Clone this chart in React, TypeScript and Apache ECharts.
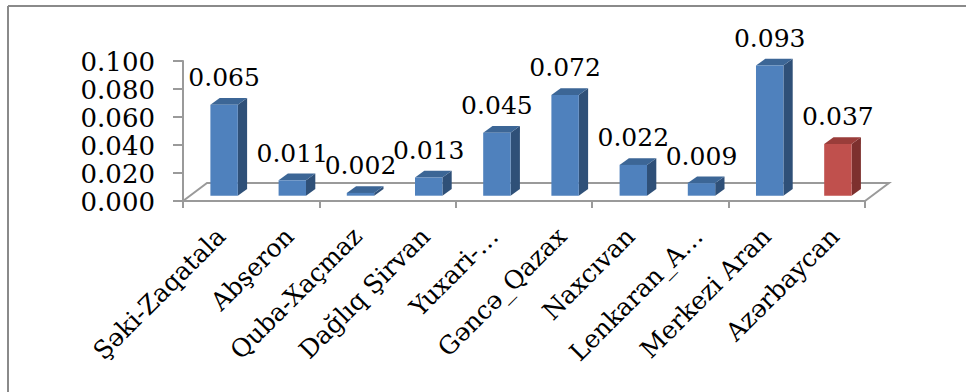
import React, { useEffect, useRef } from "react";
import * as echarts from "echarts";

const categories = [
  "Şəki-Zaqatala",
  "Abşeron",
  "Quba-Xaçmaz",
  "Dağlıq Şirvan",
  "Yuxari-…",
  "Gəncə_Qazax",
  "Naxcıvan",
  "Lenkaran_A…",
  "Merkezi Aran",
  "Azərbaycan",
];
const values = [0.065, 0.011, 0.002, 0.013, 0.045, 0.072, 0.022, 0.009, 0.093, 0.037];
const highlighted = ["Azərbaycan"];
const yTickValues = [0, 0.02, 0.04, 0.06, 0.08, 0.1];

const FONT = "DejaVu Serif";

export default function App() {
  const ref = useRef<HTMLDivElement>(null);
  useEffect(() => {
    if (!ref.current) return;
    const chart = echarts.init(ref.current, null, { renderer: "svg" });
    const gridLeft = 183, gridTop = 61, gridW = 682, gridH = 140;
    const floorDx = 24, floorDy = -18;
    const faceDx = 7, faceDy = -5.3;
    const depthDx = 9.3, depthDy = -6.7;
    const axisColor = "#9a9a9a";

    const option: any = {
      animation: false,
      backgroundColor: "#ffffff",
      textStyle: { fontFamily: FONT },
      grid: [
        { left: gridLeft, top: gridTop, width: gridW, height: gridH },
        { left: gridLeft + 4, top: gridTop, width: gridW, height: gridH },
      ],
      xAxis: [
        {
          type: "category",
          gridIndex: 0,
          data: categories,
          boundaryGap: true,
          axisLine: { show: true, lineStyle: { color: axisColor, width: 2 } },
          axisTick: { show: true, length: 7, lineStyle: { color: axisColor, width: 2 } },
          axisLabel: { show: false },
          splitLine: { show: false },
        },
        {
          type: "category",
          gridIndex: 1,
          data: categories,
          axisLine: { show: false },
          axisTick: { show: false },
          axisLabel: {
            show: true,
            interval: 0,
            rotate: 45,
            margin: 31,
            fontFamily: FONT,
            fontSize: 25,
            color: "#000",
          },
          splitLine: { show: false },
        },
      ],
      yAxis: [
        {
          type: "value",
          gridIndex: 0,
          min: yTickValues[0],
          max: yTickValues[yTickValues.length - 1],
          interval: yTickValues[1] - yTickValues[0],
          axisLine: { show: true, lineStyle: { color: axisColor, width: 2 } },
          axisTick: { show: true, length: 10, lineStyle: { color: axisColor, width: 2 } },
          splitLine: { show: false },
          axisLabel: { show: false },
        },
        {
          type: "value",
          gridIndex: 1,
          min: yTickValues[0],
          max: yTickValues[yTickValues.length - 1],
          show: false,
        },
      ],
      graphic: [
        {
          type: "line",
          shape: { x1: 8, y1: 6, x2: 8, y2: 400 },
          style: { stroke: "#8a8a8a", lineWidth: 2 },
          silent: true,
        },
        {
          type: "line",
          shape: { x1: 8, y1: 6, x2: 970, y2: 6 },
          style: { stroke: "#8a8a8a", lineWidth: 2 },
          silent: true,
        },
      ],
      series: [
        {
          type: "custom",
          xAxisIndex: 0,
          yAxisIndex: 0,
          z: 1,
          clip: false,
          data: [[0, 0]],
          renderItem: (params: any, api: any) => {
            const cs = params.coordSys;
            const x = cs.x, y = cs.y + cs.height, w = cs.width;
            return {
              type: "polyline",
              shape: {
                points: [
                  [x, y],
                  [x + floorDx, y + floorDy],
                  [x + w + floorDx, y + floorDy],
                  [x + w, y],
                ],
              },
              style: { stroke: axisColor, lineWidth: 2, fill: "none" },
            };
          },
        },
        {
          type: "custom",
          name: "yLabels",
          xAxisIndex: 0,
          yAxisIndex: 0,
          z: 3,
          clip: false,
          data: yTickValues.map((v) => [0, v]),
          renderItem: (params: any, api: any) => {
            const v = api.value(1);
            const p = api.coord([0, v]);
            const cs = params.coordSys;
            return {
              type: "text",
              x: cs.x - 28,
              y: p[1] + 1,
              style: {
                text: v.toFixed(3),
                fontFamily: FONT,
                fontSize: 26,
                lineHeight: 26,
                fill: "#000",
                align: "right",
                verticalAlign: "middle",
              },
            };
          },
        },
        {
          type: "custom",
          xAxisIndex: 0,
          yAxisIndex: 0,
          z: 5,
          clip: false,
          data: values.map((v, i) => [i, v]),
          renderItem: (params: any, api: any) => {
            const i = api.value(0);
            const v = api.value(1);
            const base = api.coord([i, 0]);
            const top = api.coord([i, v]);
            const bw = api.size([1, 0])[0] * 0.402;
            const cx = base[0] + faceDx;
            const x0 = cx - bw / 2;
            const yb = base[1] + faceDy;
            const yt = top[1] + faceDy;
            const red = highlighted.indexOf(categories[i]) >= 0;
            const front = red ? "#c0504d" : "#4f81bd";
            const side = red ? "#7d302e" : "#2f5078";
            const topC = red ? "#9a3d3a" : "#3c6696";
            return {
              type: "group",
              children: [
                {
                  type: "polygon",
                  shape: {
                    points: [
                      [x0 + bw, yt],
                      [x0 + bw + depthDx, yt + depthDy],
                      [x0 + bw + depthDx, yb + depthDy],
                      [x0 + bw, yb],
                    ],
                  },
                  style: { fill: side },
                },
                {
                  type: "polygon",
                  shape: {
                    points: [
                      [x0, yt],
                      [x0 + depthDx, yt + depthDy],
                      [x0 + bw + depthDx, yt + depthDy],
                      [x0 + bw, yt],
                    ],
                  },
                  style: { fill: topC },
                },
                {
                  type: "rect",
                  shape: { x: x0, y: yt, width: bw, height: yb - yt },
                  style: { fill: front },
                },
                {
                  type: "text",
                  x: cx,
                  y: yt - 27,
                  style: {
                    text: v.toFixed(3),
                    fontFamily: FONT,
                    fontSize: 25,
                    fill: "#000",
                    align: "center",
                    verticalAlign: "middle",
                  },
                  z2: 10,
                },
              ],
            };
          },
        },
      ],
    };
    chart.setOption(option);
    return () => chart.dispose();
  }, []);
  return (
    <div
      ref={ref}
      style={{ position: "fixed", left: 0, top: 0, width: 966, height: 392, background: "#fff" }}
    />
  );
}
